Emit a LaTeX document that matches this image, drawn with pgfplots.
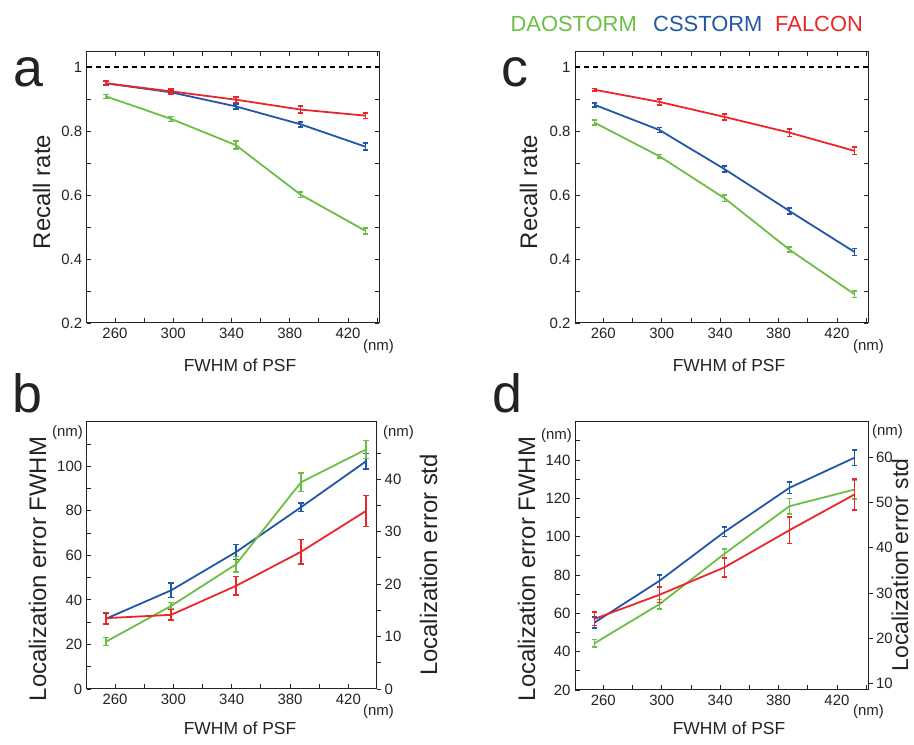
\documentclass[border=0pt]{standalone}
\usepackage{pgfplots}
\pgfplotsset{compat=1.18}
\usepackage{fontspec}
\setmainfont{Liberation Sans}
\definecolor{cg}{RGB}{108,190,69}
\definecolor{cb}{RGB}{34,87,168}
\definecolor{cr}{RGB}{234,38,43}
\definecolor{ax}{RGB}{35,35,35}

\pgfplotsset{
 base/.style={scale only axis, anchor=south west,
   axis line style={line width=1bp, ax},
   tick style={line width=0.8bp, ax},
   major tick length=4.5bp, minor tick length=4.5bp,
   tick label style={font=\fontsize{15}{18}\selectfont, text=ax},
   /pgf/number format/assume math mode=true,
   xmin=240.6, xmax=441.3,
   xtick={260,300,340,380,420}, minor xtick={280,320,360,400,440},
   xticklabels={260,300,340,380,420},
   xticklabel style={yshift=-2bp},
   yticklabel style={xshift=-1bp},
 },
 ser/.style={#1, mark=none, line width=1.8bp,
   error bars/.cd, y dir=both, y explicit, error mark=|,
   error bar style={line width=1.6bp, #1},
   error mark options={mark size=2.8bp, line width=1.6bp, #1}},
}

\begin{document}
\begin{tikzpicture}
\useasboundingbox (0,0) rectangle (914bp,745bp);

% ---------------- panel a ----------------
\begin{axis}[base, at={(86.7bp,422bp)}, width=292.3bp, height=271bp,
  ymin=0.2, ymax=1.047, ytick={0.2,0.4,0.6,0.8,1}, yticklabels={0.2,0.4,0.6,0.8,1},
  minor ytick={0.3,0.5,0.7,0.9}]
\addplot[black, line width=1.3bp, dash pattern=on 5bp off 4bp] coordinates {(240.6,1) (441.3,1)};
\addplot[ser=cg] table[x=x,y=y,y error=e] {
x y e
254 0.908 0.006
298.5 0.838 0.008
343 0.756 0.012
387.5 0.601 0.009
432 0.488 0.009
};
\addplot[ser=cb] table[x=x,y=y,y error=e] {
x y e
254 0.949 0.006
298.5 0.921 0.006
343 0.877 0.008
387.5 0.821 0.008
432 0.751 0.011
};
\addplot[ser=cr] table[x=x,y=y,y error=e] {
x y e
254 0.949 0.007
298.5 0.924 0.008
343 0.898 0.009
387.5 0.867 0.011
432 0.848 0.009
};
\end{axis}

% ---------------- panel c ----------------
\begin{axis}[base, at={(575bp,422bp)}, width=293bp, height=271bp,
  ymin=0.2, ymax=1.047, ytick={0.2,0.4,0.6,0.8,1}, yticklabels={0.2,0.4,0.6,0.8,1},
  minor ytick={0.3,0.5,0.7,0.9}]
\addplot[black, line width=1.3bp, dash pattern=on 5bp off 4bp] coordinates {(240.6,1) (441.3,1)};
\addplot[ser=cg] table[x=x,y=y,y error=e] {
x y e
254 0.826 0.008
298.5 0.721 0.006
343 0.590 0.010
387.5 0.429 0.008
432 0.290 0.010
};
\addplot[ser=cb] table[x=x,y=y,y error=e] {
x y e
254 0.882 0.006
298.5 0.803 0.008
343 0.681 0.009
387.5 0.550 0.009
432 0.422 0.011
};
\addplot[ser=cr] table[x=x,y=y,y error=e] {
x y e
254 0.929 0.004
298.5 0.891 0.009
343 0.844 0.010
387.5 0.795 0.012
432 0.738 0.012
};
\end{axis}

% ---------------- panel b ----------------
\begin{axis}[base, at={(86.7bp,56bp)}, width=290bp, height=267.3bp,
  xmax=439.4, xtick pos=left, ytick pos=left,
  ymin=0, ymax=120, ytick={0,20,40,60,80,100}, minor ytick={10,30,50,70,90,110}]
\addplot[ser=cb] table[x=x,y=y,y error=e] {
x y e
254 31.6 2.5
298.5 44.3 3.2
343 61.5 3.3
387.5 81.6 2.0
432 102.2 3.5
};
\addplot[ser=cg] table[x=x,y=y,y error=e] {
x y e
254 21.3 1.8
298.5 37.3 1.5
343 56.0 3.5
387.5 92.8 4.2
432 107.5 4.0
};
\addplot[ser=cr] table[x=x,y=y,y error=e] {
x y e
254 31.8 2.5
298.5 33.3 2.3
343 46.3 4.2
387.5 61.6 5.6
432 79.9 7.0
};
\end{axis}
\begin{axis}[scale only axis, anchor=south west, at={(86.7bp,56bp)}, width=290bp, height=267.3bp,
  axis x line=none, axis y line*=right, xmin=240.6, xmax=439.4,
  axis line style={line width=1bp, ax}, tick style={line width=0.8bp, ax},
  major tick length=4.5bp, minor tick length=4.5bp, tick align=outside,
  tick label style={font=\fontsize{15}{18}\selectfont, text=ax},
  /pgf/number format/assume math mode=true,
  ymin=0, ymax=50.96, ytick={0,10,20,30,40}, minor ytick={5,15,25,35,45}]
\addplot[draw=none] coordinates {(300,10)};
\end{axis}

% ---------------- panel d ----------------
\begin{axis}[base, at={(575bp,55bp)}, width=293bp, height=268.3bp,
  xtick pos=left, ytick pos=left,
  ymin=20, ymax=160, ytick={20,40,60,80,100,120,140}, minor ytick={30,50,70,90,110,130,150}]
\addplot[ser=cb] table[x=x,y=y,y error=e] {
x y e
254 55.2 3
298.5 77.0 3
343 102.5 2.5
387.5 125.5 3
432 141.2 4
};
\addplot[ser=cg] table[x=x,y=y,y error=e] {
x y e
254 44.4 2
298.5 64.8 2.5
343 91.1 2.5
387.5 115.9 4
432 124.6 5
};
\addplot[ser=cr] table[x=x,y=y,y error=e] {
x y e
254 57.1 3.5
298.5 69.7 4
343 84.0 5
387.5 103.4 7
432 122.0 8
};
\end{axis}
\begin{axis}[scale only axis, anchor=south west, at={(575bp,55bp)}, width=293bp, height=268.3bp,
  axis x line=none, axis y line*=right, xmin=240.6, xmax=441.3,
  axis line style={line width=1bp, ax}, tick style={line width=0.8bp, ax},
  major tick length=4.5bp, minor tick length=4.5bp, tick align=outside,
  tick label style={font=\fontsize{15}{18}\selectfont, text=ax},
  /pgf/number format/assume math mode=true,
  ymin=8.493, ymax=67.94, ytick={10,20,30,40,50,60}]
\addplot[draw=none] coordinates {(300,30)};
\end{axis}

% ---------------- texts ----------------
\begin{scope}[every node/.style={inner sep=0pt, text=ax}]
\node[anchor=base west, font=\fontsize{54}{60}\selectfont] at (13bp,658bp) {a};
\node[anchor=base west, font=\fontsize{54}{60}\selectfont] at (12bp,332bp) {b};
\node[anchor=base west, font=\fontsize{54}{60}\selectfont] at (501bp,658bp) {c};
\node[anchor=base west, font=\fontsize{54}{60}\selectfont] at (492bp,332bp) {d};

\node[anchor=base east, font=\fontsize{22}{26}\selectfont, text=cg] at (637bp,713bp) {DAOSTORM};
\node[anchor=base west, font=\fontsize{22}{26}\selectfont, text=cb] at (653bp,713bp) {CSSTORM};
\node[anchor=base west, font=\fontsize{22}{26}\selectfont, text=cr] at (775bp,713bp) {FALCON};

\node[anchor=base, font=\fontsize{17.5}{20}\selectfont] at (240bp,373bp) {FWHM of PSF};
\node[anchor=base, font=\fontsize{17.5}{20}\selectfont] at (729bp,373bp) {FWHM of PSF};
\node[anchor=base, font=\fontsize{17.5}{20}\selectfont] at (240bp,11bp) {FWHM of PSF};
\node[anchor=base, font=\fontsize{17.5}{20}\selectfont] at (729bp,11bp) {FWHM of PSF};

\node[anchor=base west, font=\fontsize{15}{18}\selectfont] at (363bp,394bp) {(nm)};
\node[anchor=base west, font=\fontsize{15}{18}\selectfont] at (853bp,394bp) {(nm)};
\node[anchor=base west, font=\fontsize{15}{18}\selectfont] at (363bp,30bp) {(nm)};
\node[anchor=base west, font=\fontsize{15}{18}\selectfont] at (853bp,30bp) {(nm)};

\node[anchor=east, font=\fontsize{15}{18}\selectfont] at (83bp,312bp) {(nm)};
\node[anchor=west, font=\fontsize{15}{18}\selectfont] at (383bp,312bp) {(nm)};
\node[anchor=east, font=\fontsize{15}{18}\selectfont] at (572bp,309bp) {(nm)};
\node[anchor=west, font=\fontsize{15}{18}\selectfont] at (872bp,313bp) {(nm)};

\node[anchor=base, rotate=90, font=\fontsize{24}{28}\selectfont] at (50bp,553bp) {Recall rate};
\node[anchor=base, rotate=90, font=\fontsize{24}{28}\selectfont] at (537bp,553bp) {Recall rate};
\node[anchor=base, rotate=90, font=\fontsize{24}{28}\selectfont] at (46bp,176bp) {Localization error FWHM};
\node[anchor=base, rotate=90, font=\fontsize{24}{28}\selectfont] at (535bp,176bp) {Localization error FWHM};
\node[anchor=base, rotate=90, font=\fontsize{24}{28}\selectfont] at (437bp,180bp) {Localization error std};
\node[anchor=base, rotate=90, font=\fontsize{23}{28}\selectfont] at (908bp,180bp) {Localization error std};
\end{scope}
\end{tikzpicture}
\end{document}
